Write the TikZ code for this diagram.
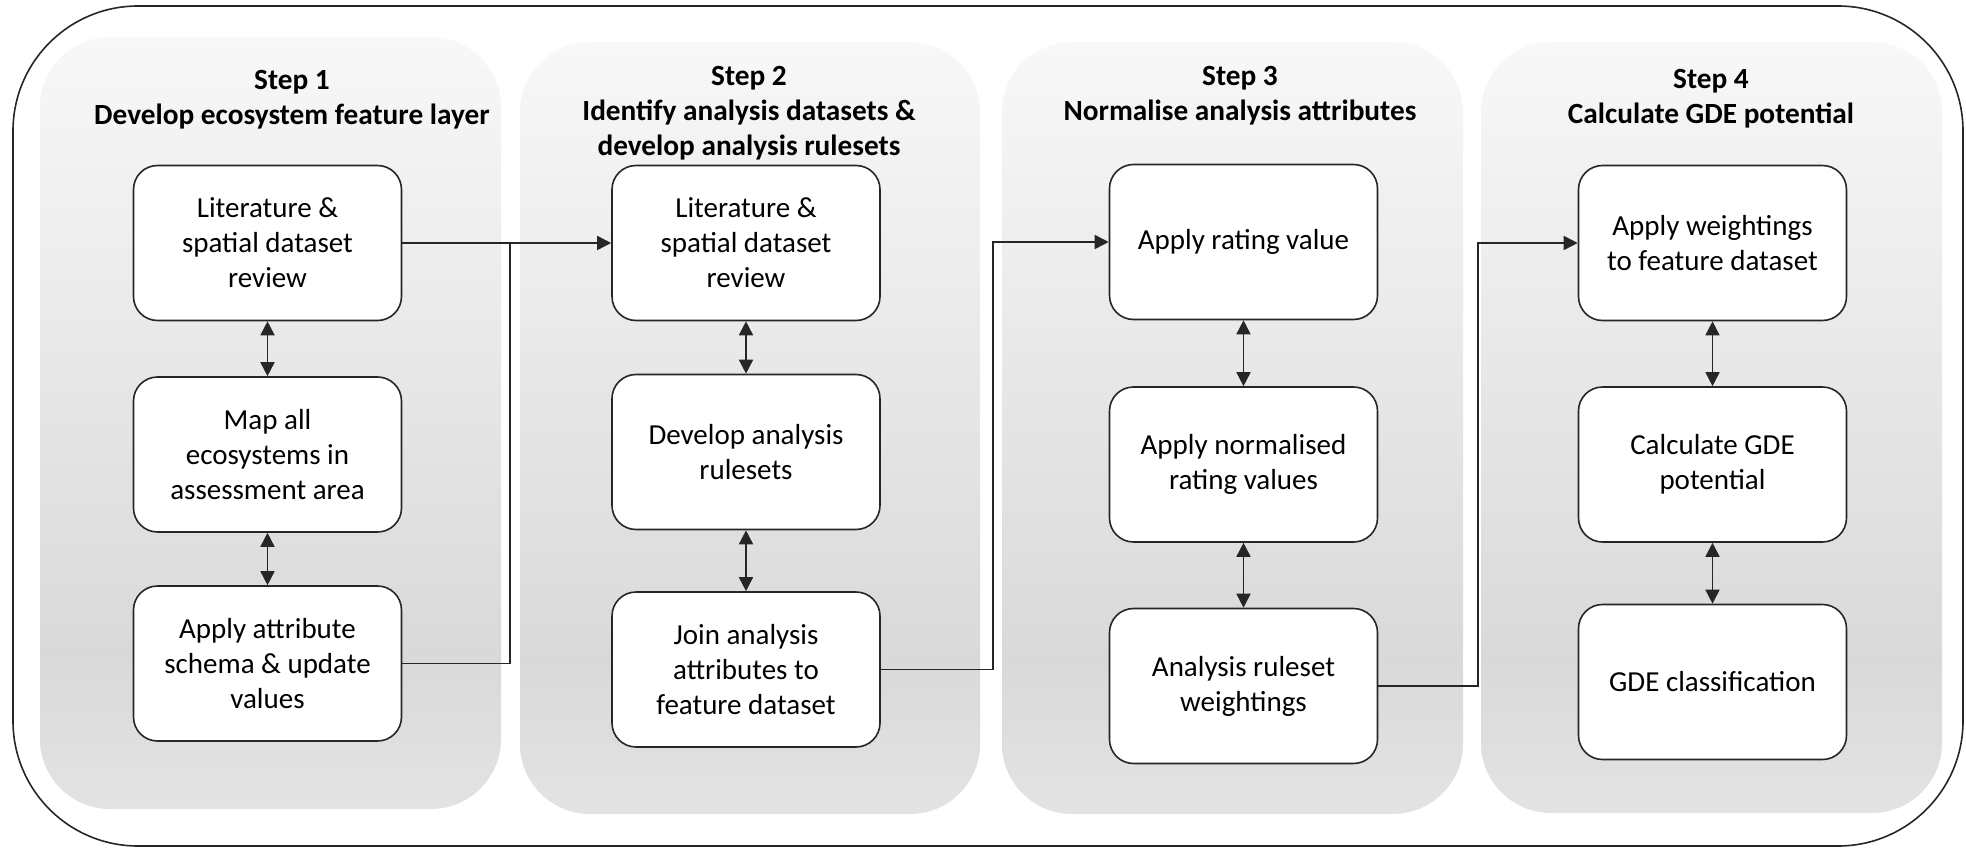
\documentclass[tikz,border=0pt]{standalone}
\usepackage{fontspec}
\setmainfont{Carlito}
\usepackage{tikz}
\usetikzlibrary{arrows.meta, positioning, calc}

\definecolor{fadetop}{HTML}{F8F8F8}
\definecolor{fademid}{HTML}{D9D9D9}
\definecolor{fadebot}{HTML}{E3E3E3}
\pgfdeclareverticalshading{stepfade}{100bp}{color(0bp)=(fadebot); color(25bp)=(fadebot); color(35bp)=(fademid); color(75bp)=(fadetop); color(100bp)=(fadetop)}

\begin{document}
\begin{tikzpicture}[x=1pt, y=-1pt,%
        panel/.style={shading=stepfade, rounded corners=70pt},
        task/.style={rectangle, draw=black!85, fill=white, line width=1.6pt, rounded corners=24pt, minimum width=268pt, minimum height=155pt, align=center, font=\fontsize{29}{35}\selectfont},
        heading/.style={align=center, inner sep=0pt, font=\fontsize{29.3}{35}\selectfont\bfseries},
        link/.style={line width=1.6pt, draw=black!85},
        arrow/.style={link, -{Triangle[length=14pt, width=14pt]}},
        both/.style={link, {Triangle[length=14pt, width=14pt]}-{Triangle[length=14pt, width=14pt]}}%
    ]
        \useasboundingbox (0,0) rectangle (1966,848);

        % step panels and frame
        \path[panel] (40,37) rectangle (501,809);
        \path[panel] (520,42) rectangle (980,814);
        \path[panel] (1002,42) rectangle (1463,814);
        \path[panel] (1481,42) rectangle (1942,813);
        \draw[link, rounded corners=125pt] (13,6) rectangle (1963,846);

        \node[heading] (h1) at (292,99.5) {Step 1\\Develop ecosystem feature layer};
        \node[heading] (h2) at (749,113) {Step 2\\Identify analysis datasets \&\\develop analysis rulesets};
        \node[heading] (h3) at (1240,95.5) {Step 3\\Normalise analysis attributes};
        \node[heading] (h4) at (1711,98.5) {Step 4\\Calculate GDE potential};

        \node[task] (lit1) at (267.5,243) {Literature \&\\spatial dataset\\review};
        \node[task] (map) at (267.5,454.5) {Map all\\ecosystems in\\assessment area};
        \node[task] (attr) at (267.5,663.5) {Apply attribute\\schema \& update\\values};

        \node[task] (lit2) at (746,243) {Literature \&\\spatial dataset\\review};
        \node[task] (rules) at (746,452) {Develop analysis\\rulesets};
        \node[task] (join) at (746,669.5) {Join analysis\\attributes to\\feature dataset};

        \node[task] (rate) at (1243.5,242) {Apply rating value};
        \node[task] (norm) at (1243.5,464.5) {Apply normalised\\rating values};
        \node[task] (wts) at (1243.5,686) {Analysis ruleset\\weightings};

        \node[task] (wapp) at (1712.5,243) {Apply weightings\\to feature dataset};
        \node[task] (calc) at (1712.5,464.5) {Calculate GDE\\potential};
        \node[task] (cls) at (1712.5,682) {GDE classification};

        \draw[both] (lit1) -- (map);
        \draw[both] (map) -- (attr);
        \draw[both] (lit2) -- (rules);
        \draw[both] (rules) -- (join);
        \draw[both] (rate) -- (norm);
        \draw[both] (norm) -- (wts);
        \draw[both] (wapp) -- (calc);
        \draw[both] (calc) -- (cls);

        % hand-over between steps
        \coordinate (j1) at (510,243);
        \coordinate (j2) at (993,242);
        \coordinate (j3) at (1478,243);
        \draw[arrow] (lit1) -- (lit2);
        \draw[link] (attr.east) -| (j1);
        \draw[arrow] (join.east) -| (j2) -- (rate.west);
        \draw[arrow] (wts.east) -| (j3) -- (wapp.west);
    \end{tikzpicture}
\end{document}
